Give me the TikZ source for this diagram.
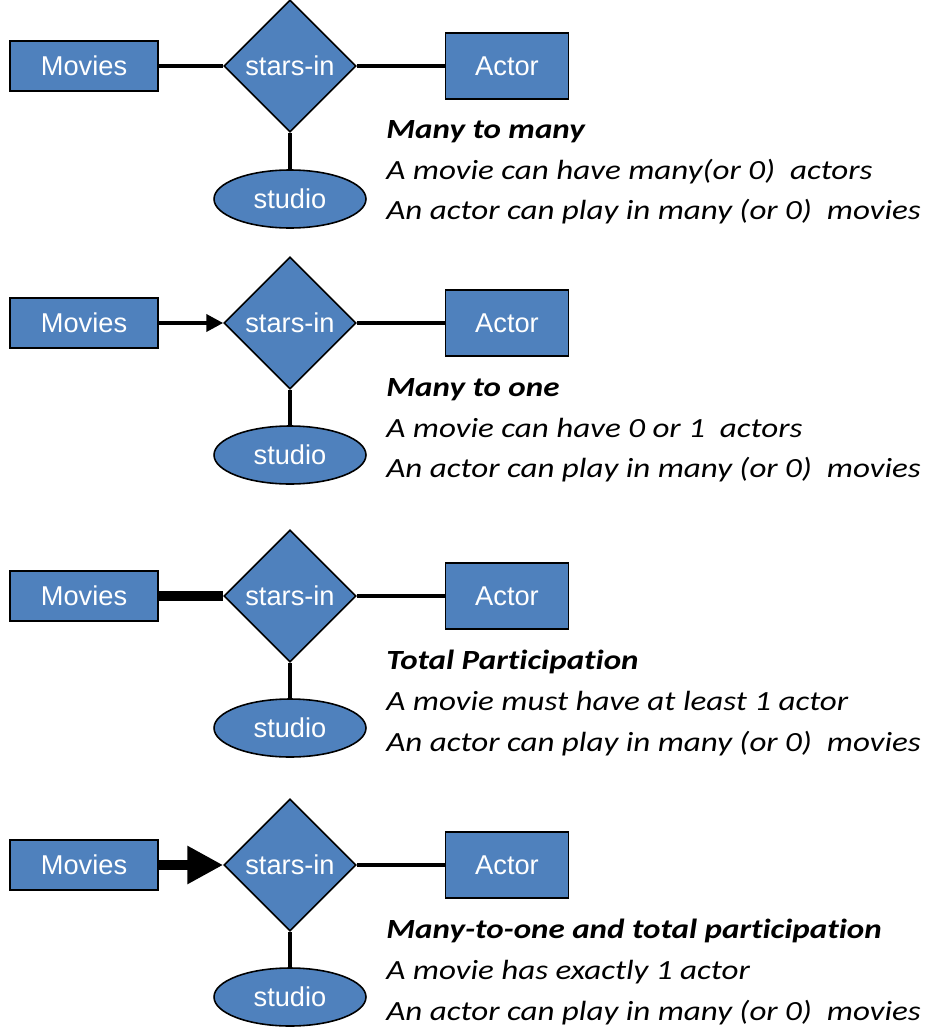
\documentclass[tikz,border=0pt]{standalone}
\usepackage{fontspec}
\setmainfont{Carlito}[Ligatures = NoCommon, FakeStretch = 1.19]
\newfontfamily\labelfont{Liberation Sans}
\usetikzlibrary{shapes.geometric, arrows.meta}
\definecolor{erblue}{HTML}{4F81BD}
\tikzset{
  entity/.style = {draw, fill = erblue, text = white, line width = 0.9pt, inner sep = 0pt,
    font = \labelfont\fontsize{15.5}{18}\selectfont},
  movie/.style = {entity, minimum width = 2.96cm, minimum height = 1cm},
  actor/.style = {entity, minimum width = 2.46cm, minimum height = 1.32cm},
  relation/.style = {entity, diamond, shape aspect = 1, minimum width = 2.64cm, minimum height = 2.64cm},
  attribute/.style = {entity, ellipse, minimum width = 3.04cm, minimum height = 1.16cm},
  link/.style = {line width = 2.2pt},
  note/.style = {anchor = north west, inner sep = 0pt, align = left,
    font = \itshape\fontsize{15.8}{23.2}\selectfont}
}
\begin{document}
\begin{tikzpicture}[x = 0.02cm, y = -0.02cm]
  \useasboundingbox (0,0) rectangle (931,1031);
  % many to many
  \node[movie] (movies1) at (84,66) {Movies};
  \node[relation] (stars1) at (290,66) {stars-in};
  \node[actor] (actor1) at (507,66) {Actor};
  \node[attribute] (studio1) at (290,199) {studio};
  \draw[link] (movies1) -- (stars1);
  \draw[link] (stars1) -- (actor1);
  \draw[link] (stars1) -- (studio1);
  \node[note] (note1) at (386,120) {\textbf{Many to many}\\A movie can have many(or 0)\ \ actors\\An actor can play in many (or 0)\ \ movies};
  % many to one
  \node[movie] (movies2) at (84,323) {Movies};
  \node[relation] (stars2) at (290,323) {stars-in};
  \node[actor] (actor2) at (507,323) {Actor};
  \node[attribute] (studio2) at (290,455) {studio};
  \draw[link, -{Triangle[length = 9.6pt, width = 9.6pt]}] (movies2) -- (stars2);
  \draw[link] (stars2) -- (actor2);
  \draw[link] (stars2) -- (studio2);
  \node[note] (note2) at (386,378) {\textbf{Many to one}\\A movie can have 0 or 1\ \ actors\\An actor can play in many (or 0)\ \ movies};
  % total participation
  \node[movie] (movies3) at (84,596) {Movies};
  \node[relation] (stars3) at (290,596) {stars-in};
  \node[actor] (actor3) at (507,596) {Actor};
  \node[attribute] (studio3) at (290,728) {studio};
  \draw[line width = 5.7pt] (movies3) -- (stars3);
  \draw[link] (stars3) -- (actor3);
  \draw[link] (stars3) -- (studio3);
  \node[note] (note3) at (386,650) {\textbf{Total Participation}\\A movie must have at least 1 actor\\An actor can play in many (or 0)\ \ movies};
  % many to one and total
  \node[movie] (movies4) at (84,865) {Movies};
  \node[relation] (stars4) at (290,865) {stars-in};
  \node[actor] (actor4) at (507,865) {Actor};
  \node[attribute] (studio4) at (290,997) {studio};
  \draw[line width = 6.2pt, -{Triangle[length = 20.4pt, width = 20.4pt]}] (movies4) -- (stars4);
  \draw[link] (stars4) -- (actor4);
  \draw[link] (stars4) -- (studio4);
  \node[note] (note4) at (386,919) {\textbf{Many-to-one and total participation}\\A movie has exactly 1 actor\\An actor can play in many (or 0)\ \ movies};
\end{tikzpicture}
\end{document}
